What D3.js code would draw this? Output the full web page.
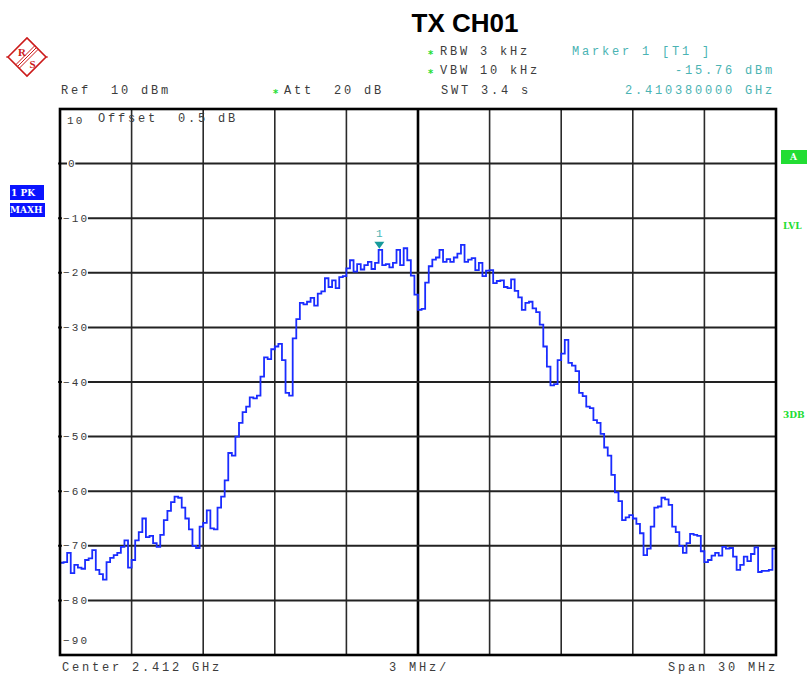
<!DOCTYPE html>
<html>
<head>
<meta charset="utf-8">
<script src="https://cdn.jsdelivr.net/npm/d3@7"></script>
<style>
  html, body { margin: 0; padding: 0; background: #fff; }
  svg { display: block; }
  .mono { font-family: "Liberation Mono", "DejaVu Sans Mono", monospace; }
</style>
</head>
<body>
<svg id="chart" width="807" height="675"></svg>
<script>
// ---------------- data ----------------
const title = "TX CH01";
const centerGHz = 2.412;
const spanMHz = 30;
const sweepStepMHz = 0.15;           // spacing between trace points
const yTickValues = [10, 0, -10, -20, -30, -40, -50, -60, -70, -80, -90];
const yTickLabels = ["10", "0", "-10", "-20", "-30", "-40", "-50", "-60", "-70", "-80", "-90"];
const xDivisions = [0, 1, 2, 3, 4, 5, 6, 7, 8, 9, 10];
// Trace 1 (PK, MAXH) levels in dBm, one per sweep point from 2.397 GHz
const traceLevels = [
  -73.1, -73.0, -71.3, -75.0, -73.5, -74.0, -74.2, -72.6, -72.3, -70.8,
  -74.4, -75.2, -76.2, -73.0, -72.2, -71.7, -71.3, -70.2, -69.0, -74.0,
  -72.6, -69.0, -67.5, -65.0, -68.4, -68.2, -69.5, -70.2, -68.0, -65.3,
  -63.6, -62.0, -61.0, -61.2, -63.0, -65.0, -67.0, -70.0, -70.4, -66.5,
  -65.8, -63.5, -66.8, -67.0, -63.0, -61.0, -58.0, -53.0, -53.5, -50.0,
  -47.5, -45.5, -44.5, -42.8, -43.0, -42.5, -39.0, -35.5, -35.8, -34.0,
  -33.5, -33.0, -36.0, -42.0, -42.5, -32.0, -28.5, -25.5, -25.8, -25.3,
  -24.6, -26.0, -23.8, -23.4, -21.0, -22.6, -21.4, -22.8, -20.8, -20.6,
  -19.2, -17.7, -19.8, -18.4, -19.4, -18.6, -18.0, -19.3, -18.2, -15.8,
  -18.6, -18.4, -19.0, -18.2, -15.8, -18.6, -15.5, -17.7, -20.5, -24.0,
  -26.8, -26.6, -21.8, -18.8, -17.6, -17.2, -15.8, -18.0, -17.5, -18.0,
  -17.2, -16.5, -14.9, -18.0, -17.6, -17.3, -19.5, -18.2, -20.6, -19.6,
  -19.5, -21.9, -21.5, -21.4, -22.6, -22.8, -21.2, -23.3, -24.5, -26.8,
  -25.5, -25.3, -26.5, -27.2, -29.5, -33.5, -37.2, -40.6, -40.4, -36.0,
  -34.8, -32.3, -36.5, -37.0, -38.0, -42.0, -42.6, -44.5, -44.8, -47.0,
  -47.5, -49.5, -52.0, -53.5, -57.0, -60.2, -61.8, -65.3, -64.8, -64.4,
  -65.0, -66.0, -67.7, -71.7, -70.5, -66.5, -63.0, -62.8, -61.2, -61.5,
  -62.5, -66.5, -67.5, -70.0, -71.3, -69.5, -67.8, -68.0, -68.2, -71.0,
  -73.0, -72.6, -71.8, -71.3, -71.8, -70.2, -70.5, -70.4, -72.0, -74.4,
  -73.5, -72.0, -72.8, -71.5, -70.3, -74.8, -74.6, -74.6, -74.4, -70.5,
  -72.5
];
const markerFreqGHz = 2.41038;
const markerLevel = -15.76;
const headerLeft = ["Ref  10 dBm", "Att  20 dB", "SWT 3.4 s"];
const headerMid = ["RBW 3 kHz", "VBW 10 kHz"];
const markerTexts = ["Marker 1 [T1 ]", "-15.76 dBm", "2.410380000 GHz"];
const footerTexts = ["Center 2.412 GHz", "3 MHz/", "Span 30 MHz"];

// ---------------- layout ----------------
const svg = d3.select("#chart");
const L = 60, R = 776, T = 109, B = 655;
const startGHz = centerGHz - spanMHz / 2000;
const stopGHz = centerGHz + spanMHz / 2000;
const x = d3.scaleLinear().domain([startGHz, stopGHz]).range([L, R]);
const y = d3.scaleLinear().domain([-90, 10]).range([B, T]);
const xDiv = d3.scaleLinear().domain([0, 10]).range([L, R]);

const grey = "#3c3c3c";
const teal = "#4ab3b3";
const green = "#22dd33";

// title
svg.append("text").attr("x", 465).attr("y", 32).attr("text-anchor", "middle")
  .attr("font-family", "'Liberation Sans', Arial, sans-serif").attr("font-weight", "bold")
  .attr("font-size", 26).attr("fill", "#000").text(title);

// logo
const logo = svg.append("g").attr("transform", "translate(27,57)");
const lr = 19;
logo.append("path").attr("d", `M${-lr},0 L0,${-lr} L${lr},0 L0,${lr} Z`)
  .attr("fill", "none").attr("stroke", "#cc1a1a").attr("stroke-width", 1.6);
logo.append("path").attr("d", `M${-lr-2},0 L${-lr},0 M${lr},0 L${lr+2},0`)
  .attr("stroke", "#cc1a1a").attr("stroke-width", 1.2);
[-2.5, 0, 2.5].forEach(o => {
  logo.append("line").attr("x1", -9.5 + o * 0.7).attr("y1", 9.5 + o * 0.7)
    .attr("x2", 9.5 + o * 0.7).attr("y2", -9.5 + o * 0.7)
    .attr("stroke", "#cc1a1a").attr("stroke-width", 1);
});
logo.append("text").attr("x", -5).attr("y", -1).attr("text-anchor", "middle")
  .attr("font-family", "'Liberation Serif', serif").attr("font-weight", "bold").attr("font-size", 11)
  .attr("fill", "#cc1a1a").text("R");
logo.append("text").attr("x", 5.5).attr("y", 11).attr("text-anchor", "middle")
  .attr("font-family", "'Liberation Serif', serif").attr("font-weight", "bold").attr("font-size", 11)
  .attr("fill", "#cc1a1a").text("S");

// header texts
function mono(xp, yp, str, color, anchor) {
  return svg.append("text").attr("class", "mono").attr("x", xp).attr("y", yp)
    .attr("font-size", 12).attr("letter-spacing", 2.8).attr("fill", color)
    .attr("text-anchor", anchor || "start").attr("xml:space", "preserve")
    .style("white-space", "pre").text(str);
}
function star(xp, yp) {
  svg.append("text").attr("x", xp).attr("y", yp).attr("font-family", "'DejaVu Sans', sans-serif")
    .attr("font-size", 10).attr("font-weight", "bold").attr("fill", green).text("*");
}
mono(61, 94, headerLeft[0], grey);
star(273, 97); mono(284, 94, headerLeft[1], grey);
mono(441, 94, headerLeft[2], grey);
star(428, 58); mono(440, 55, headerMid[0], grey);
star(428, 77); mono(440, 74, headerMid[1], grey);
mono(572, 55, markerTexts[0], teal);
mono(775, 74, markerTexts[1], teal, "end");
mono(775, 94, markerTexts[2], teal, "end");

// left & right side badges
function badge(x0, y0, w, h, fill, label, tx) {
  svg.append("rect").attr("x", x0).attr("y", y0).attr("width", w).attr("height", h).attr("fill", fill);
  svg.append("text").attr("x", tx).attr("y", y0 + h - 4)
    .attr("font-family", "'DejaVu Serif', 'Liberation Serif', serif").attr("font-weight", "bold")
    .attr("font-size", 9).attr("fill", "#fff").attr("xml:space", "preserve").style("white-space", "pre").text(label);
}
badge(10, 185, 34, 15, "#0a14ff", "1 PK", 11);
badge(10, 203, 35, 14, "#0a14ff", "MAXH", 10);
badge(781, 150, 26, 14, green, "A", 790);
svg.append("text").attr("x", 783).attr("y", 229).attr("font-family", "'DejaVu Serif', serif")
  .attr("font-weight", "bold").attr("font-size", 9).attr("fill", green).text("LVL");
svg.append("text").attr("x", 783).attr("y", 418).attr("font-family", "'DejaVu Serif', serif")
  .attr("font-weight", "bold").attr("font-size", 9).attr("fill", green).text("3DB");

// grid
const grid = svg.append("g");
grid.selectAll("line.v").data(xDivisions.slice(1, -1)).join("line")
  .attr("x1", d => xDiv(d)).attr("x2", d => xDiv(d)).attr("y1", T).attr("y2", B)
  .attr("stroke", d => d === 5 ? "#000" : "#2a2a2a").attr("stroke-width", d => d === 5 ? 2.6 : 1.6);
grid.selectAll("line.h").data(yTickValues.slice(1, -1)).join("line")
  .attr("x1", L - 2).attr("x2", R).attr("y1", d => y(d)).attr("y2", d => y(d))
  .attr("stroke", "#222").attr("stroke-width", 2);

// y labels (white backing first, then text on top)
const labBg = svg.append("g");
const labG = svg.append("g");
yTickValues.forEach((v, i) => {
  const lbl = yTickLabels[i].replace("-", "\u2212");
  let yy = y(v), inside = false, xx = lbl.length === 1 ? 68 : 63;
  if (i === 0) { yy = y(v) + 11; inside = true; xx = 67; }
  else if (i === yTickValues.length - 1) { yy = y(v) - 15; inside = true; }
  const t = labG.append("text").attr("class", "mono").attr("x", xx)
    .attr("y", yy + 3.5).attr("font-size", 11).attr("letter-spacing", 2.2)
    .attr("fill", "#3a3a3a").text(lbl);
  if (!inside) {
    const bb = t.node().getBBox();
    labBg.append("rect").attr("x", bb.x - 1).attr("y", yy - 4).attr("width", bb.width - 0.5)
      .attr("height", 8).attr("fill", "#fff");
  }
});

mono(98, 122, "Offset  0.5 dB", grey);

// trace
const points = traceLevels.map((v, i) => [startGHz + i * sweepStepMHz / 1000, v]);
const line = d3.line().x(d => x(d[0])).y(d => y(d[1])).curve(d3.curveStepAfter);
svg.append("path").datum(points).attr("d", line).attr("fill", "none")
  .attr("stroke", "#1a2cff").attr("stroke-width", 1.8).attr("stroke-linejoin", "miter");

// marker
const mx = x(markerFreqGHz), my = y(markerLevel);
svg.append("path").attr("d", `M${mx - 5},${my - 8} L${mx + 5},${my - 8} L${mx},${my - 1} Z`).attr("fill", "#179a9a");
mono(mx, my - 13, "1", teal, "middle").attr("font-size", 11).attr("letter-spacing", 0);

// frame
svg.append("rect").attr("x", L).attr("y", T).attr("width", R - L).attr("height", B - T)
  .attr("fill", "none").attr("stroke", "#000").attr("stroke-width", 2.6);

// footer
mono(62, 671, footerTexts[0], grey);
mono(419, 671, footerTexts[1], grey, "middle");
mono(778, 671, footerTexts[2], grey, "end");
</script>
</body>
</html>
